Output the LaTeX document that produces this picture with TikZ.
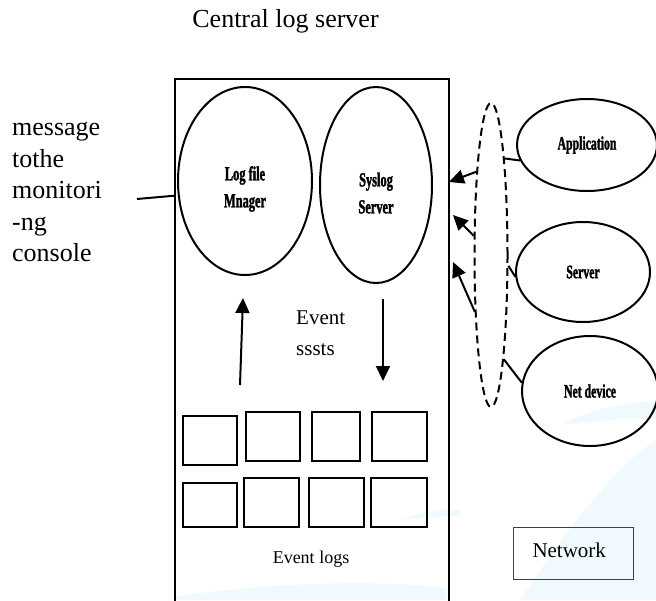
\documentclass[tikz,border=0pt]{standalone}
\usepackage{fontspec}
\setmainfont{Liberation Serif}
\newfontfamily\condfont{Liberation Serif}[FakeStretch=0.62,FakeBold=1.5]
\usetikzlibrary{shapes.geometric,arrows.meta}

\tikzset{
  unit/.style={ellipse,draw,line width=2pt,inner sep=0pt,align=center,
    font=\condfont\bfseries\fontsize{20}{27}\selectfont},
  source/.style={unit,font=\condfont\bfseries\fontsize{19}{24}\selectfont},
  logbox/.style={draw,line width=2pt,inner sep=0pt,anchor=north west},
  feed/.style={line width=2pt,-{Triangle[length=15pt,width=14pt]}},
  link/.style={line width=2pt},
  haze/.style={fill=cyan!6,draw=none}
}

\begin{document}
\begin{tikzpicture}[x=1pt,y=-1pt]
\useasboundingbox (0,0) rectangle (656,600);
% faint background
\fill[haze] (520,600) .. controls (560,540) and (610,470) .. (656,440) -- (656,600) -- cycle;
\fill[haze] (560,425) .. controls (600,405) and (640,400) .. (656,402) -- (656,418) .. controls (620,418) and (590,422) .. (560,425) -- cycle;
\fill[haze] (176,596) .. controls (260,585) and (360,578) .. (446,588) -- (446,600) -- (176,600) -- cycle;
\fill[haze] (400,520) .. controls (420,512) and (440,508) .. (460,510) -- (460,516) .. controls (440,516) and (420,518) .. (400,520) -- cycle;

\node[font=\fontsize{26}{31}\selectfont,anchor=base] (T0) at (285.5,27) {Central log server};
\node[logbox,minimum width=274pt,minimum height=540pt] (P0) at (174,78) {};
\node[font=\fontsize{26}{31.5}\selectfont,align=left,anchor=north west,inner sep=0pt] (T1) at (12,122)
  {message\\tothe\\monitori\\-ng\\console};
\coordinate (M0) at (137,199);

\node[unit,minimum width=134pt,minimum height=188pt] (P1) at (245,181) {\rule{0pt}{30pt}Log file\\Mnager};
\node[unit,minimum width=112pt,minimum height=196pt] (P2) at (376,185) {\rule{0pt}{30pt}Syslog\\Server};
\node[font=\fontsize{21}{31}\selectfont,align=left,anchor=north west,inner sep=0pt] (T2) at (296,311) {Event\\sssts};

% event log slots
\foreach \n/\x/\y/\w/\h in {1/182/415/54/49, 2/245/411/54/49, 3/311/411/48/49, 4/371/411/55/49,
  5/182/482/54/44, 6/243/477/55/49, 7/308/477/55/49, 8/370/477/56/49}
  \node[logbox,minimum width=\w pt,minimum height=\h pt] (S\n) at (\x,\y) {};
\node[font=\fontsize{18}{22}\selectfont,anchor=base] (T3) at (311,563) {Event logs};

\coordinate (U0) at (240,385);
\coordinate (U1) at (243,298);
\coordinate (V0) at (383,299);
\coordinate (V1) at (383,381);

% sources
\node[ellipse,draw,dash pattern=on 8pt off 5pt,line width=2pt,inner sep=0pt,
  minimum width=33pt,minimum height=304pt] (D) at (491,255) {};
\node[source,minimum width=140pt,minimum height=92pt] (P3) at (587,145) {Application};
\node[source,minimum width=134pt,minimum height=100pt] (P4) at (583,272) {Server};
\node[source,minimum width=136pt,minimum height=110pt] (P5) at (590,391) {Net device};
\coordinate (A1) at (449,182);
\coordinate (A2) at (453,215);
\coordinate (A3) at (453,262);

\node[draw=black!75,line width=1pt,anchor=north west,inner xsep=0pt,inner ysep=0pt,
  text width=120pt,align=left,text height=30pt,text depth=22pt,
  font=\fontsize{21}{25}\selectfont] (N0) at (513,527) {\hspace*{19pt}Network};

\path[link]
(M0) edge (P0.132.2)
(P3.193) edge (D.82)
(P4.184.5) edge (D.-32)
(P5.173) edge (D.-83);
\path[feed]
(U0) edge (U1)
(V0) edge (V1)
(D.100) edge (A1)
(D.132) edge (A2)
(D.254) edge (A3);
\end{tikzpicture}
\end{document}
